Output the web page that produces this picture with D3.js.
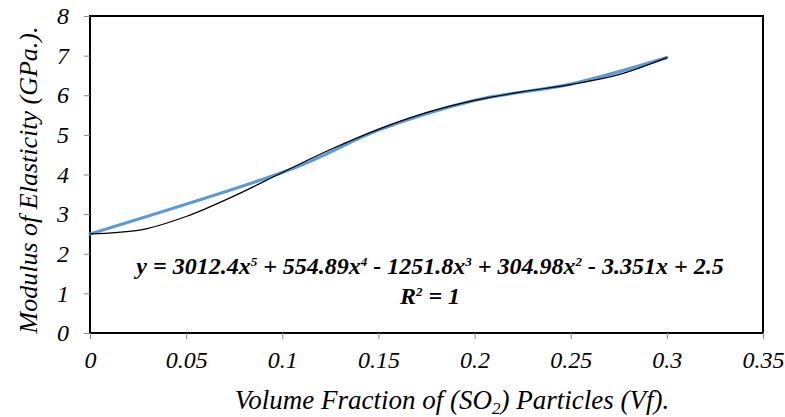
<!DOCTYPE html>
<html>
<head>
<meta charset="utf-8">
<script src="https://cdn.jsdelivr.net/npm/d3@7"></script>
</head>
<body style="margin:0">
<script>
// curve (black, thin)
const curveX = [0, 0.025, 0.05, 0.075, 0.1, 0.125, 0.15, 0.175, 0.2, 0.225, 0.25, 0.275, 0.3];
const curveY = [2.5, 2.59, 2.94, 3.46, 4.05, 4.63, 5.14, 5.56, 5.87, 6.09, 6.27, 6.52, 6.95];

// measured points (blue, thick smoothed line)
const dataX = [0, 0.1, 0.15, 0.2, 0.25, 0.3];
const dataY = [2.5, 4.05, 5.12, 5.87, 6.28, 6.95];

const xTicks = [0, 0.05, 0.1, 0.15, 0.2, 0.25, 0.3, 0.35];
const yTicks = [0, 1, 2, 3, 4, 5, 6, 7, 8];

const W = 785, H = 417;
const margin = { top: 16, right: 22, bottom: 84, left: 90 };

const svg = d3.select("body").append("svg")
    .attr("width", W)
    .attr("height", H);

const x = d3.scaleLinear().domain([0, 0.35]).range([margin.left, W - margin.right]);
const y = d3.scaleLinear().domain([0, 8]).range([H - margin.bottom, margin.top]);

// plot frame
svg.append("rect")
    .attr("x", x(0))
    .attr("y", y(8))
    .attr("width", x(0.35) - x(0))
    .attr("height", y(0) - y(8))
    .attr("fill", "none")
    .attr("stroke", "#000")
    .attr("stroke-width", 2);

// axes
const xAxis = svg.append("g")
    .attr("transform", `translate(0,${y(0)})`)
    .call(d3.axisBottom(x).tickValues(xTicks).tickSize(6).tickPadding(12).tickFormat(d => d));
const yAxis = svg.append("g")
    .attr("transform", `translate(${x(0)},0)`)
    .call(d3.axisLeft(y).tickValues(yTicks).tickSize(6).tickPadding(15));

[xAxis, yAxis].forEach(g => {
    g.attr("font-family", null).attr("font-size", null);
    g.select(".domain").remove();
    g.selectAll(".tick line").attr("stroke", "#888");
    g.selectAll(".tick text")
        .attr("font-size", 24)
        .attr("font-style", "italic")
        .attr("fill", "#000");
});

// lines
const blue = d3.line()
    .x((d, i) => x(dataX[i]))
    .y(d => y(d))
    .curve(d3.curveCardinal.tension(0));
svg.append("path")
    .attr("d", blue(dataY))
    .attr("fill", "none")
    .attr("stroke", "#5b9bd5")
    .attr("stroke-width", 3.2)
    .attr("stroke-linecap", "round");

const black = d3.line()
    .x((d, i) => x(curveX[i]))
    .y(d => y(d))
    .curve(d3.curveMonotoneX);
svg.append("path")
    .attr("d", black(curveY))
    .attr("fill", "none")
    .attr("stroke", "#000")
    .attr("stroke-width", 1.2);

// trendline equation
const eq = svg.append("text")
    .attr("x", 430)
    .attr("y", 274)
    .attr("text-anchor", "middle")
    .attr("font-size", 24)
    .attr("font-weight", "bold")
    .attr("font-style", "italic");
const parts = [["y = 3012.4x", "5"], [" + 554.89x", "4"], [" - 1251.8x", "3"],
               [" + 304.98x", "2"], [" - 3.351x + 2.5", null]];
let shift = 0;
parts.forEach(p => {
    eq.append("tspan").attr("dy", shift).text(p[0]);
    shift = 0;
    if (p[1]) {
        eq.append("tspan").attr("font-size", 13).attr("dy", -8).text(p[1]);
        shift = 8;
    }
});
const r2 = svg.append("text")
    .attr("x", 430)
    .attr("y", 304)
    .attr("text-anchor", "middle")
    .attr("font-size", 24)
    .attr("font-weight", "bold")
    .attr("font-style", "italic");
r2.append("tspan").text("R");
r2.append("tspan").attr("font-size", 13).attr("dy", -8).text("2");
r2.append("tspan").attr("dy", 8).text(" = 1");

// axis titles
const xt = svg.append("text")
    .attr("x", 452)
    .attr("y", 409)
    .attr("text-anchor", "middle")
    .attr("font-size", 27)
    .attr("font-style", "italic");
xt.append("tspan").text("Volume Fraction of (SO");
xt.append("tspan").attr("font-size", 17).attr("dy", 5).text("2");
xt.append("tspan").attr("dy", -5).text(") Particles (Vf).");

svg.append("text")
    .attr("transform", `translate(37,180) rotate(-90)`)
    .attr("text-anchor", "middle")
    .attr("font-size", 26)
    .attr("font-style", "italic")
    .text("Modulus of Elasticity (GPa.).");

svg.selectAll("text").style("font-family", "'Liberation Serif', 'Times New Roman', serif");
</script>
</body>
</html>
